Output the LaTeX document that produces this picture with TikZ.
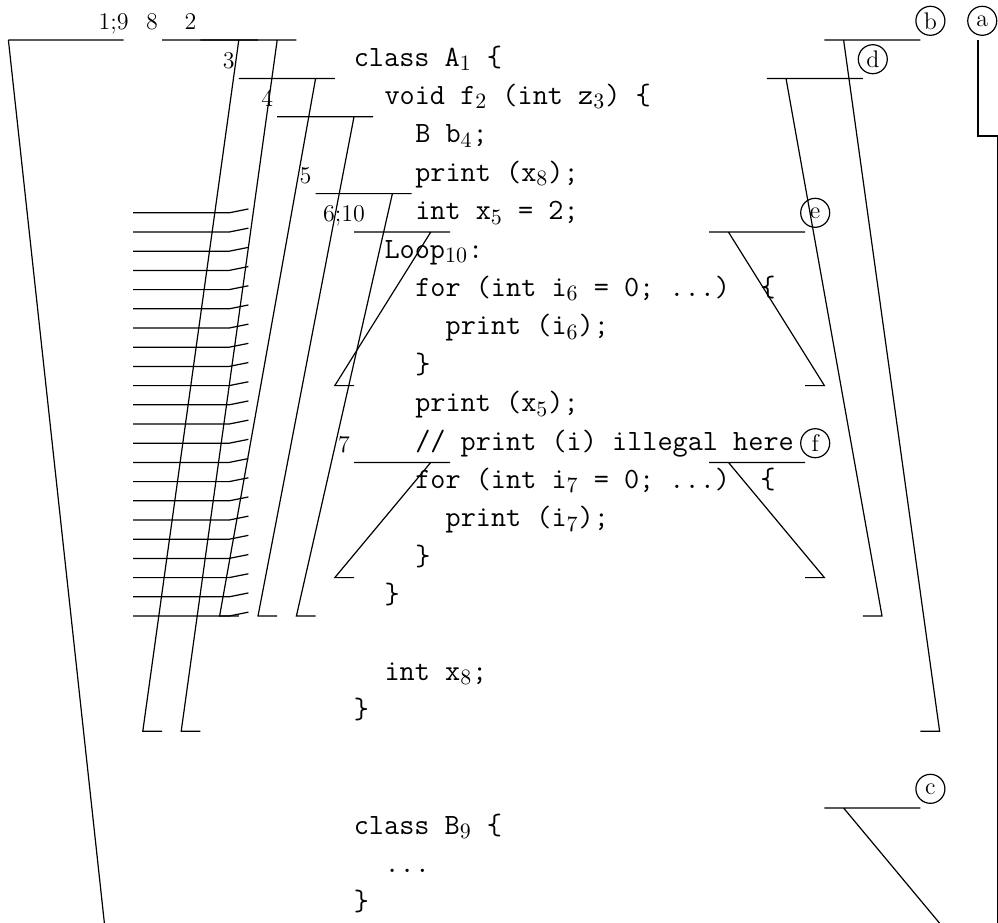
\documentclass[tikz,border=0pt]{standalone}
\usepackage{amsmath}
\usepackage{tikz}
\DeclareMathSizes{14.7}{14.7}{11}{8}
\newcommand\codesize{\fontsize{14.7}{17}\selectfont\ttfamily}
\newcommand\tagsize{\fontsize{12}{14}\selectfont}
\tikzstyle{hatch} = [line width=0.6pt]

\begin{document}
\begin{tikzpicture}[x=19.2pt, y=-19.2pt,
                    line width=0.6pt,
                    code/.style={anchor=base west, inner sep=0pt, font=\codesize},
                    scope tag/.style={anchor=base, inner sep=0pt, font=\tagsize},
                    scope ring/.style={circle, draw, line width=0.6pt, minimum size=14.5pt, inner sep=0pt, font=\tagsize}]
  \useasboundingbox (-0.21875,-1.04167) rectangle (25.7708,22.96875);

  % the program
  \node[code] (c0)  at (8.98,0.68)  {class A$_1$ \{};
  \node[code] (c1)  at (9.78,1.68)  {void f$_2$ (int z$_3$) \{};
  \node[code] (c2)  at (10.58,2.68) {B b$_4$;};
  \node[code] (c3)  at (10.58,3.68) {print (x$_8$);};
  \node[code] (c4)  at (10.58,4.68) {int x$_5$ = 2;};
  \node[code] (c5)  at (9.78,5.68)  {Loop$_{10}$:};
  \node[code] (c6)  at (10.58,6.68) {for (int i$_6$ = 0; ...)\ \ \{};
  \node[code] (c7)  at (11.37,7.68) {print (i$_6$);};
  \node[code] (c8)  at (10.58,8.68) {\}};
  \node[code] (c9)  at (10.58,9.68) {print (x$_5$);};
  \node[code] (c10) at (10.58,10.68) {// print (i) illegal here};
  \node[code] (c11) at (10.58,11.68) {for (int i$_7$ = 0; ...)\ \ \{};
  \node[code] (c12) at (11.37,12.68) {print (i$_7$);};
  \node[code] (c13) at (10.58,13.68) {\}};
  \node[code] (c14) at (9.78,14.68)  {\}};
  \node[code] (c16) at (9.78,16.68)  {int x$_8$;};
  \node[code] (c17) at (8.98,17.68)  {\}};
  \node[code] (c20) at (8.98,20.68)  {class B$_9$ \{};
  \node[code] (c21) at (9.78,21.68)  {...};
  \node[code] (c22) at (8.98,22.68)  {\}};

  % left scopes
  \node[scope tag] (s19) at (2.74,-0.27) {1;9};
  \node[scope tag] (s8)  at (3.74,-0.27) {8};
  \node[scope tag] (s2)  at (4.74,-0.27) {2};
  \node[scope tag] (s3)  at (5.74,0.73)  {3};
  \node[scope tag] (s4)  at (6.74,1.73)  {4};
  \node[scope tag] (s5)  at (7.74,3.73)  {5};
  \node[scope tag] (s610) at (8.74,4.73) {6;10};
  \node[scope tag] (s7)  at (8.74,10.73) {7};

  \draw (0,0) -- (3,0) (0,0) -- (2.5,23);
  \draw (4,0) -- (6.5,0) (6,0) -- (3.5,18) -- (4,18);
  \draw (5,0) -- (7.5,0) (7,0) -- (4.5,18) -- (5,18);
  \draw (6,1) -- (8.5,1) (8,1) -- (5.5,15) -- (6,15);
  \draw (7,2) -- (9.5,2) (9,2) -- (6.5,15) -- (7,15);
  \draw (8,4) -- (10.5,4) (10,4) -- (7.5,15) -- (8,15);
  \draw (9,5) -- (11.5,5) (11,5) -- (8.5,9) -- (9,9);
  \draw (9,11) -- (11.5,11) (11,11) -- (8.5,14) -- (9,14);

  \foreach \k in {4.5,5,...,15}
    \draw[hatch] (3.25,\k) -- (5.75,\k) -- (6.25,\k-0.1);

  % right scopes
  \node[scope ring] (ra) at (25.36,-0.5) {a};
  \node[scope ring] (rb) at (24.01,-0.5) {b};
  \node[scope ring] (rd) at (22.51,0.5)  {d};
  \node[scope ring] (re) at (21.01,4.5)  {e};
  \node[scope ring] (rf) at (21.01,10.5) {f};
  \node[scope ring] (rc) at (24.01,19.5) {c};

  \draw (25.25,0) -- (25.25,2.5) -- (25.75,2.5) -- (25.75,23);
  \draw (21.25,0) -- (23.75,0) (21.75,0) -- (24.25,18) -- (23.75,18);
  \draw (19.75,1) -- (22.25,1) (20.25,1) -- (22.75,15) -- (22.25,15);
  \draw (18.25,5) -- (20.75,5) (18.75,5) -- (21.25,9) -- (20.75,9);
  \draw (18.25,11) -- (20.75,11) (18.75,11) -- (21.25,14) -- (20.75,14);
  \draw (21.25,20) -- (23.75,20) (21.75,20) -- (24.25,23);
\end{tikzpicture}
\end{document}
